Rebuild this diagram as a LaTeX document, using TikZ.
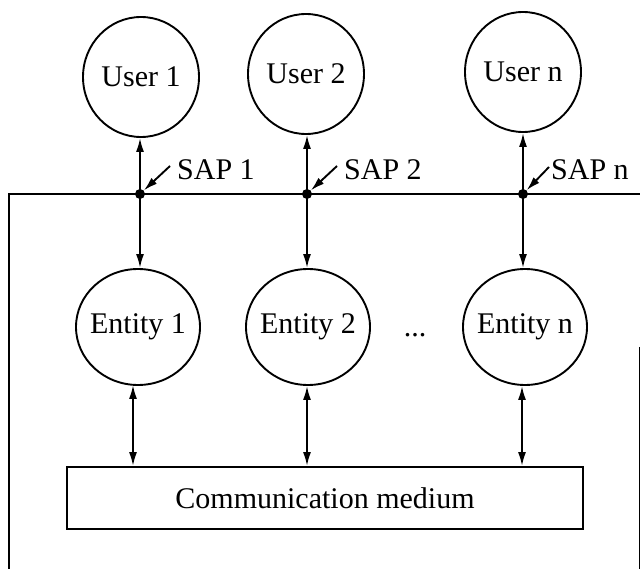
\documentclass[tikz,border=0pt]{standalone}
\usepackage{fontspec}
\setmainfont{Liberation Serif}
\usetikzlibrary{shapes.geometric,arrows.meta,calc}
\begin{document}
\begin{tikzpicture}[x=1pt,y=-1pt,
  lw/.style={line width=1.9pt},
  txt/.style={font=\fontsize{30}{34}\selectfont},
  blob/.style={ellipse, draw, lw, inner sep=0pt, txt},
  userblob/.style={blob, minimum width=116pt, minimum height=120pt},
  entblob/.style={blob, minimum width=124pt, minimum height=116pt},
  sapdot/.style={circle, fill, inner sep=0pt, minimum size=10pt},
  tip/.tip={Latex[length=14pt,width=8pt]},
  arr/.style={lw, -tip},
  dbl/.style={lw, tip-tip},
  lbl/.style={txt, inner sep=0pt, anchor=west}
]
\useasboundingbox (0,0) rectangle (640,569);

% system boundary (open to the bottom and right)
\draw[lw] (9,569) -- (9,194) -- (640,194);
\draw[line width=0.6pt] (639,347) -- (639,569);

% users
\node[userblob] (u1) at (141,77) {\makebox[0pt]{User 1}};
\node[userblob] (u2) at (306,74) {\makebox[0pt]{User 2}};
\node[userblob] (un) at (523,72) {\makebox[0pt]{User n}};

% service access points
\node[sapdot] (s1) at (140,194) {};
\node[sapdot] (s2) at (307,194) {};
\node[sapdot] (sn) at (523,194) {};

\node[lbl] (l1) at (177,170) {SAP 1};
\node[lbl] (l2) at (344,170) {SAP 2};
\node[lbl] (ln) at (551,170) {SAP n};
\coordinate (t1) at (170,166);
\coordinate (t2) at (337,166);
\coordinate (tn) at (549,167);

% entities
\node[entblob] (e1) at (138,327) {\makebox[0pt]{Entity 1}};
\node[entblob] (e2) at (308,327) {\makebox[0pt]{Entity 2}};
\node[entblob] (en) at (525,327) {\makebox[0pt]{Entity n}};
\node[txt, inner sep=0pt, anchor=base] (dots) at (415,337) {...};

% medium
\node[draw, lw, txt, minimum width=516pt, minimum height=62pt, inner sep=0pt] (med) at (325,498) {Communication medium};

% connectors
\foreach \s/\u/\e/\t in {s1/u1/e1/t1, s2/u2/e2/t2, sn/un/en/tn} {
  \draw[arr] (\s.center) -- (\s.center |- \u.south);
  \draw[arr] (\s.center) -- (\s.center |- \e.north);
  \draw[arr] (\t) -- (\s);
}
\coordinate (b1) at ($(e1.south)+(-5,-1)$);
\coordinate (b2) at ($(e2.south)+(-1,0)$);
\coordinate (bn) at ($(en.south)+(-3,0)$);
\foreach \b in {b1, b2, bn}
  \draw[dbl] (\b) -- (\b |- med.north);
\end{tikzpicture}
\end{document}
